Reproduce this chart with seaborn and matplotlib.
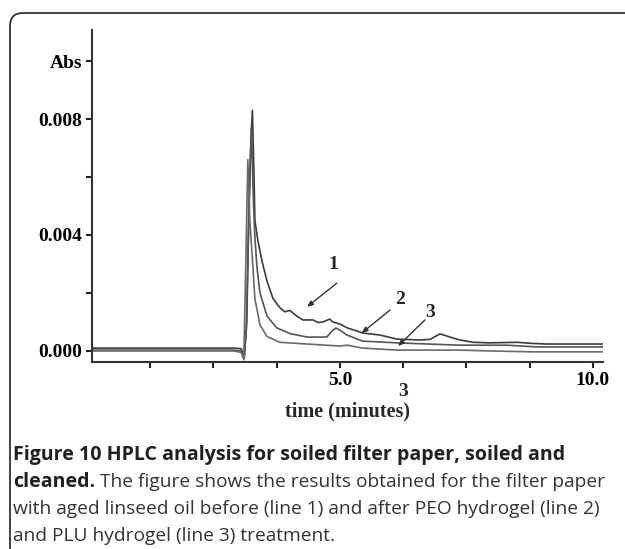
import numpy as np
import pandas as pd
import matplotlib
matplotlib.use("Agg")
import matplotlib.pyplot as plt
import seaborn as sns
from matplotlib.patches import FancyBboxPatch

# ---- data ----
t1 = [0.1, 2.9, 3.05, 3.11, 3.15, 3.20, 3.24, 3.27, 3.30, 3.32, 3.38, 3.46, 3.56, 3.68,
      3.81, 3.91, 4.01, 4.15, 4.27, 4.47, 4.57, 4.66, 4.80, 4.86, 5.0, 5.14, 5.45, 5.79,
      6.13, 6.58, 6.78, 6.98, 7.23, 7.37, 7.63, 7.96, 8.5, 8.81, 9.09, 9.88, 10.2]
v1 = [0.0001, 0.0001, 0.00008, -0.0002, 0.0008, 0.0045, 0.0072, 0.0083, 0.0062, 0.0045,
      0.0038, 0.0031, 0.0024, 0.0018, 0.0015, 0.00135, 0.0014, 0.0012, 0.00107, 0.00107,
      0.00098, 0.0010, 0.0011, 0.0010, 0.00093, 0.0008, 0.00062, 0.00055, 0.00041, 0.00038,
      0.00040, 0.00059, 0.00045, 0.00038, 0.0003, 0.00028, 0.0003, 0.00026, 0.00024,
      0.00024, 0.00024]

t2 = [0.1, 2.9, 3.05, 3.11, 3.16, 3.20, 3.25, 3.29, 3.32, 3.36, 3.42, 3.56, 3.75, 4.01,
      4.35, 4.74, 4.84, 4.92, 5.0, 5.14, 5.45, 6.13, 7.37, 7.63, 8.3, 8.9, 10.2]
v2 = [0.00003, 0.00003, 0.0, -0.00025, 0.001, 0.005, 0.0077, 0.0052, 0.0039, 0.0029,
      0.002, 0.0012, 0.0008, 0.0006, 0.00048, 0.00048, 0.00068, 0.00079, 0.00072,
      0.00055, 0.00034, 0.00028, 0.0002, 0.0002, 0.0002, 0.00014, 0.00014]

t3 = [0.1, 2.9, 3.05, 3.10, 3.14, 3.18, 3.22, 3.28, 3.32, 3.42, 3.56, 3.81, 4.35, 5.0,
      5.14, 5.45, 6.13, 7.37, 8.0, 8.8, 10.2]
v3 = [0.0, 0.0, -0.00005, -0.0003, 0.003, 0.0066, 0.0045, 0.0029, 0.0018, 0.0009,
      0.0005, 0.0003, 0.00024, 0.00017, 0.0002, 0.0001, 0.00003, 0.00003, 0.0,
      -0.00003, -0.00003]

series_names = ["1", "2", "3"]
x_ticks = [1.25, 2.5, 3.75, 5.0, 6.25, 7.5, 8.75, 10.0]
x_labels = ["", "", "", "5.0", "", "", "", "10.0"]
y_ticks = [0.0, 0.002, 0.004, 0.006, 0.008, 0.010]
y_labels = ["0.000", "", "0.004", "", "0.008", "Abs"]

caption_bold1 = "Figure 10 HPLC analysis for soiled filter paper, soiled and"
caption_bold2 = "cleaned."
caption_rest2 = " The figure shows the results obtained for the filter paper"
caption_line3 = "with aged linseed oil before (line 1) and after PEO hydrogel (line 2)"
caption_line4 = "and PLU hydrogel (line 3) treatment."

df = pd.concat([
    pd.DataFrame({"time": t1, "abs": v1, "series": "1"}),
    pd.DataFrame({"time": t2, "abs": v2, "series": "2"}),
    pd.DataFrame({"time": t3, "abs": v3, "series": "3"}),
], ignore_index=True)

sns.set_style("white")
serif = "Liberation Serif"
sans = "Open Sans"
tfs = 14

W, H = 625, 549
fig = plt.figure(figsize=(W / 100, H / 100), dpi=100)
ax = fig.add_axes([92 / W, 1 - 362 / H, (603 - 92) / W, (362 - 30) / H])

sns.lineplot(data=df, x="time", y="abs", hue="series", hue_order=series_names,
             palette={"1": "#3c3c3c", "2": "#555555", "3": "#6a6a6a"},
             estimator=None, sort=False, legend=False, linewidth=1.2, ax=ax)

ax.set_xlim(0.1, 10.2)
ax.set_ylim(-0.00038, 0.01107)
ax.set_xticks(x_ticks)
ax.set_xticklabels(x_labels, fontfamily=serif, fontweight="bold", fontsize=tfs)
ax.set_yticks(y_ticks)
ax.set_yticklabels(y_labels, fontfamily=serif, fontweight="bold", fontsize=tfs)
ax.tick_params(axis="both", direction="out", length=4, width=1.5, color="#222222",
               pad=3, bottom=True, left=True, labelcolor="black")
for s in ["top", "right"]:
    ax.spines[s].set_visible(False)
for s in ["left", "bottom"]:
    ax.spines[s].set_linewidth(1.5)
    ax.spines[s].set_color("#333333")
ax.set_xlabel("time (minutes)", fontfamily=serif, fontweight="bold", fontsize=14.5,
              labelpad=9)
ax.set_ylabel("")
ax.set_facecolor("white")

# annotations
arrow = dict(arrowstyle="-|>,head_length=0.35,head_width=0.15", color="#333333", lw=1.0,
             shrinkA=0, shrinkB=0)
ax.text(4.86, 0.00297, "1", fontfamily=serif, fontweight="bold", fontsize=tfs,
        ha="center", va="center")
ax.annotate("", xy=(4.35, 0.00152), xytext=(4.94, 0.00234), arrowprops=arrow)
ax.text(6.19, 0.00176, "2", fontfamily=serif, fontweight="bold", fontsize=tfs,
        ha="center", va="center")
ax.annotate("", xy=(5.43, 0.00062), xytext=(5.99, 0.00141), arrowprops=arrow)
ax.text(6.78, 0.00134, "3", fontfamily=serif, fontweight="bold", fontsize=tfs,
        ha="center", va="center")
ax.annotate("", xy=(6.15, 0.00017), xytext=(6.68, 0.00107), arrowprops=arrow)
ax.text(6.25, -0.00141, "3", fontfamily=serif, fontweight="bold", fontsize=tfs,
        ha="center", va="center", clip_on=False)

# rounded frame
frame = FancyBboxPatch((0.10, -1.0), 7.0, 5.36 + 1.0,
                       boxstyle="round,pad=0,rounding_size=0.13",
                       transform=fig.dpi_scale_trans, fill=False,
                       edgecolor="#333333", linewidth=1.3, clip_on=False)
fig.patches.append(frame)

# caption
cx = 13 / W
fsb = 14.1
fs = 13.8
fig.text(cx, 1 - 455 / H, caption_bold1, fontfamily=sans, fontweight="bold",
         fontsize=fsb, color="#231f20", va="center", ha="left")
tb = fig.text(cx, 1 - 482 / H, caption_bold2, fontfamily=sans, fontweight="bold",
              fontsize=fsb, color="#231f20", va="center", ha="left")
fig.canvas.draw()
bb = tb.get_window_extent()
fig.text(bb.x1 / W, 1 - 482 / H, caption_rest2, fontfamily=sans, fontsize=fs,
         color="#333333", va="center", ha="left")
fig.text(cx, 1 - 509 / H, caption_line3, fontfamily=sans, fontsize=fs,
         color="#333333", va="center", ha="left")
fig.text(cx, 1 - 536 / H, caption_line4, fontfamily=sans, fontsize=fs,
         color="#333333", va="center", ha="left")

fig.savefig("out.png", dpi=100, facecolor="white")
